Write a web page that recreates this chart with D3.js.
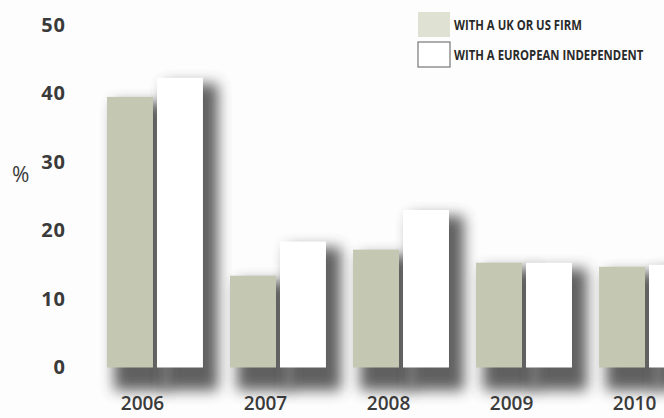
<!DOCTYPE html>
<style>
body { margin: 0; background: #fdfdfd; }
svg { display: block; }
text { fill: #3a3a3a; stroke: none; }
.axis .domain, .axis line { display: none; }
.axis text { font-family: 'Open Sans', sans-serif; font-size: 19px; font-weight: 600; }
.y-axis text { font-size: 20px; font-weight: 700; letter-spacing: 1px; }
.pct { font-family: 'Open Sans', sans-serif; font-size: 21px; }
.legend text { font-family: 'Open Sans', sans-serif; font-size: 13.5px; font-weight: bold; fill: #2a2a2a; }
</style>
<svg width="664" height="418"></svg>
<script src="https://d3js.org/d3.v7.min.js"></script>
<script>
var years = ["2006", "2007", "2008", "2009", "2010"];
var seriesNames = ["WITH A UK OR US FIRM", "WITH A EUROPEAN INDEPENDENT"];
var ukUsFirm = [39.5, 13.4, 17.2, 15.3, 14.7];
var europeanIndependent = [42.3, 18.4, 23.0, 15.3, 15.0];
var yTicks = [0, 10, 20, 30, 40, 50];

var svg = d3.select("svg");
var colors = { "WITH A UK OR US FIRM": "#c4c8b3", "WITH A EUROPEAN INDEPENDENT": "#ffffff" };

var data = years.map(function(yr, i) {
  return { year: yr, values: [
    { type: seriesNames[0], value: ukUsFirm[i] },
    { type: seriesNames[1], value: europeanIndependent[i] }
  ]};
});

var x0 = d3.scaleBand().domain(years).range([107, 695]).paddingInner(0.22).paddingOuter(0);
var x1 = d3.scaleBand().domain(seriesNames).range([0, x0.bandwidth()]).paddingInner(0.08).paddingOuter(0);
var y = d3.scaleLinear().domain([0, 50]).range([367.5, 25]);

// soft drop shadow
var defs = svg.append("defs");
defs.append("filter")
    .attr("id", "blur")
    .attr("x", "-50%").attr("y", "-50%").attr("width", "200%").attr("height", "200%")
  .append("feGaussianBlur")
    .attr("stdDeviation", 7);

var groups = svg.append("g")
  .selectAll("g")
  .data(data)
  .enter().append("g")
    .attr("transform", function(d) { return "translate(" + x0(d.year) + ",0)"; });

groups.selectAll(".shadow")
    .data(function(d) { return d.values; })
  .enter().append("rect")
    .attr("class", "shadow")
    .attr("filter", "url(#blur)")
    .attr("fill", "#444")
    .attr("opacity", 0.85)
    .attr("x", function(d) { return x1(d.type) + 7; })
    .attr("y", function(d) { return y(d.value) + 6; })
    .attr("width", x1.bandwidth() + 8)
    .attr("height", function(d) { return y(0) - y(d.value) + 17; });

groups.selectAll(".bar")
    .data(function(d) { return d.values; })
  .enter().append("rect")
    .attr("class", "bar")
    .attr("x", function(d) { return x1(d.type); })
    .attr("y", function(d) { return y(d.value); })
    .attr("width", x1.bandwidth())
    .attr("height", function(d) { return y(0) - y(d.value); })
    .attr("fill", function(d) { return colors[d.type]; });

// year labels
var xAxis = svg.append("g")
    .attr("class", "axis")
    .attr("transform", "translate(" + (x0.bandwidth() * 0.37 - x0.bandwidth() / 2) + ",396)")
    .call(d3.axisBottom(x0).tickSize(0).tickPadding(0));
xAxis.selectAll("text").attr("dy", "0.72em");

// y labels
svg.append("g")
    .attr("class", "axis y-axis")
    .attr("transform", "translate(66,0)")
    .call(d3.axisLeft(y).tickValues(yTicks).tickSize(0).tickPadding(0));

svg.append("text")
    .attr("class", "pct")
    .attr("x", 12)
    .attr("y", 182)
    .text("%");

// legend
var legend = svg.append("g").attr("class", "legend");
var legG = legend.selectAll("g")
    .data(seriesNames)
  .enter().append("g")
    .attr("transform", function(d, i) { return "translate(418," + (12 + i * 30) + ")"; });

legG.append("rect")
    .attr("width", 32)
    .attr("height", 25)
    .attr("fill", function(d) { return d === seriesNames[0] ? "#dfe2d3" : "#fff"; })
    .attr("stroke", function(d, i) { return i === 1 ? "#777" : "none"; })
    .attr("stroke-width", 1.2);

// horizontally squeezed to mimic the condensed face
legG.append("text")
    .attr("transform", "translate(36,13) scale(0.84,1)")
    .attr("dy", "0.35em")
    .text(function(d) { return d; });
</script>
